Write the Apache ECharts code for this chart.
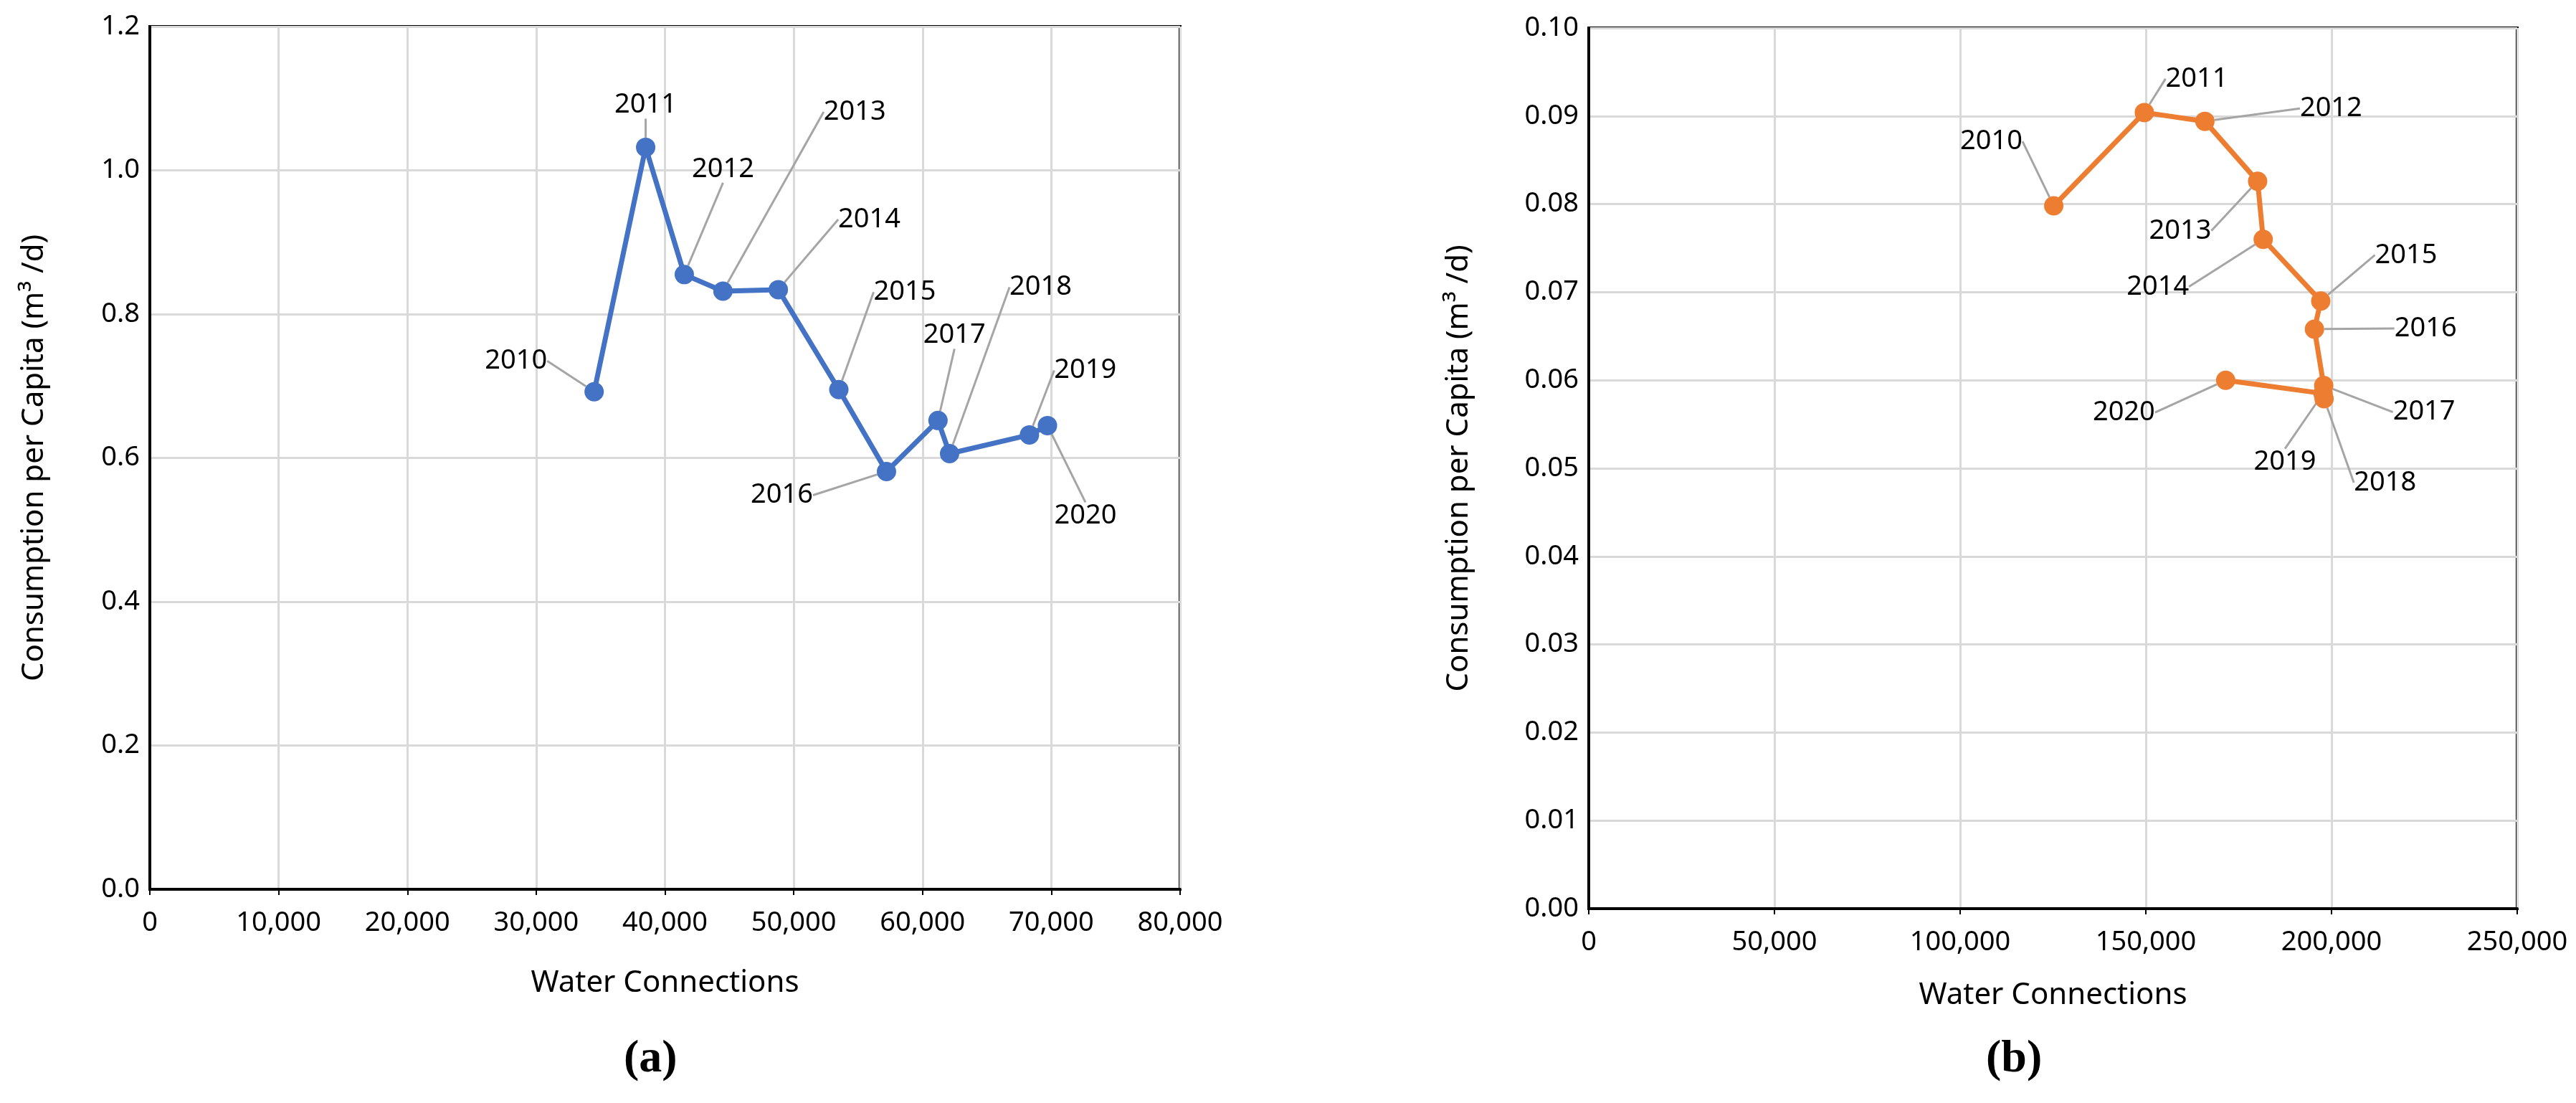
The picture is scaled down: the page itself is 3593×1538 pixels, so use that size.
<!DOCTYPE html>
<html>
<head>
<meta charset="utf-8">
<script src="https://cdn.jsdelivr.net/npm/echarts@6/dist/echarts.min.js"></script>
<style>html,body{margin:0;padding:0;background:#fff}#chart{width:3593px;height:1538px}</style>
</head>
<body>
<div id="chart"></div>
<script>
var years = ['2010','2011','2012','2013','2014','2015','2016','2017','2018','2019','2020'];
// (a)
var connA = [34500, 38500, 41500, 44500, 48800, 53500, 57200, 61200, 62100, 68300, 69700];
var consA = [0.692, 1.032, 0.855, 0.832, 0.834, 0.695, 0.581, 0.652, 0.606, 0.632, 0.645];
var xTicksA = [0, 80000, 10000];
var yTicksA = [0, 1.2, 0.2];
// (b)
var connB = [125200, 149600, 165900, 180100, 181600, 197100, 195400, 197900, 198000, 197700, 171500];
var consB = [0.0798, 0.0904, 0.0894, 0.0826, 0.0760, 0.0690, 0.0658, 0.0594, 0.0579, 0.0585, 0.0600];
var xTicksB = [0, 250000, 50000];
var yTicksB = [0, 0.10, 0.01];

// label offsets (px) from each point
var offA = [[-109,-43],[0,-59],[54,-147],[184,-250],[127,-98],[92,-136],[-146,33],[23,-119],[127,-232],[78,-90],[53,126]];
var offB = [[-87,-90],[73,-47],[176,-18],[-108,69],[-147,66],[119,-64],[155,-1],[140,37],[85,117],[-53,96],[-142,45]];

var FONT = '"Liberation Sans Narrow","Noto Sans",sans-serif';

function pts(xs, ys) {
    return xs.map(function (x, i) { return { name: years[i], value: [x, ys[i]] }; });
}
function xAxis(idx, t, gap) {
    return {
        gridIndex: idx, type: 'value', min: t[0], max: t[1], interval: t[2],
        name: 'Water Connections', nameLocation: 'middle', nameGap: gap,
        nameTextStyle: { fontFamily: FONT, fontSize: 42, color: '#000' },
        axisLine: { lineStyle: { color: '#000', width: 4 } },
        axisTick: { show: true, length: 8, lineStyle: { color: '#000', width: 2 } },
        axisLabel: { fontFamily: FONT, fontSize: 38, color: '#000', margin: 28 },
        splitLine: { show: true, lineStyle: { color: '#d9d9d9', width: 3 } }
    };
}
function yAxis(idx, t, gap, dec) {
    return {
        gridIndex: idx, type: 'value', min: t[0], max: t[1], interval: t[2],
        name: 'Consumption per Capita (m\u00B3 /d)', nameLocation: 'middle', nameGap: gap,
        nameTextStyle: { fontFamily: FONT, fontSize: 42, color: '#000' },
        axisLine: { show: true, lineStyle: { color: '#000', width: 4 } },
        axisTick: { show: false },
        axisLabel: { fontFamily: FONT, fontSize: 38, color: '#000', margin: 14,
            formatter: function (v) { return v.toFixed(dec); } },
        splitLine: { show: true, lineStyle: { color: '#d9d9d9', width: 3 } }
    };
}
function series(idx, data, color, off) {
    return {
        type: 'line', xAxisIndex: idx, yAxisIndex: idx, data: data,
        symbol: 'circle', symbolSize: 27,
        lineStyle: { color: color, width: 7 },
        itemStyle: { color: color },
        label: { show: true, position: 'inside', formatter: '{b}',
            fontFamily: FONT, fontSize: 38, color: '#000' },
        labelLine: { show: true, lineStyle: { color: '#a5a5a5', width: 3 } },
        labelLayout: function (p) { return { dx: off[p.dataIndex][0], dy: off[p.dataIndex][1] }; },
        animation: false
    };
}

var chart = echarts.init(document.getElementById('chart'));
chart.setOption({
    backgroundColor: '#fff',
    animation: false,
    grid: [
        { left: 209, width: 1437, top: 37, height: 1203, show: true, borderColor: '#000', borderWidth: 4 },
        { left: 2216, width: 1295, top: 39, height: 1228, show: true, borderColor: '#000', borderWidth: 4 }
    ],
    xAxis: [xAxis(0, xTicksA, 110), xAxis(1, xTicksB, 100)],
    yAxis: [yAxis(0, yTicksA, 140, 1), yAxis(1, yTicksB, 160, 2)],
    series: [
        series(0, pts(connA, consA), '#4472c4', offA),
        series(1, pts(connB, consB), '#ed7d31', offB)
    ],
    graphic: [
        { type: 'text', left: 870, top: 1445, style: { text: '(a)', font: 'bold 64px "Liberation Serif",serif', fill: '#000' } },
        { type: 'text', left: 2770, top: 1445, style: { text: '(b)', font: 'bold 64px "Liberation Serif",serif', fill: '#000' } }
    ]
});
</script>
</body>
</html>
